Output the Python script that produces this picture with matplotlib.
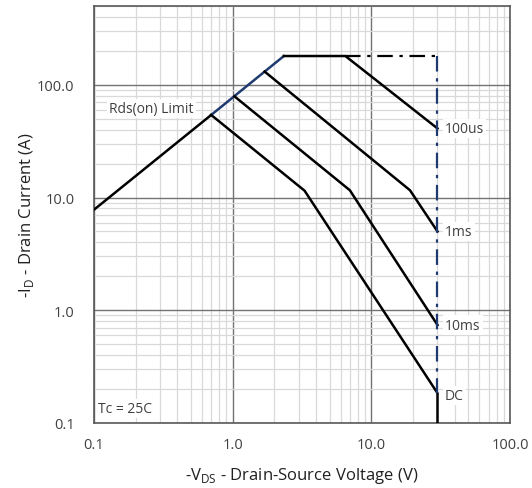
import matplotlib.pyplot as plt
from matplotlib.ticker import FixedLocator, FuncFormatter, LogLocator, NullFormatter

plt.rcParams['font.family'] = ['Open Sans', 'DejaVu Sans']
plt.rcParams['mathtext.fontset'] = 'custom'
plt.rcParams['mathtext.rm'] = 'Open Sans'

# --- DADOS ---
# Limite Rds(on): parte preta e parte azul
rds_v = [0.1, 0.70]
rds_i = [7.8, 54.0]
rds_azul_v = [0.70, 2.34]
rds_azul_i = [54.0, 180.0]

# Curvas de pulso
us100_v = [2.34, 6.5, 30.0]
us100_i = [180.0, 180.0, 41.0]
ms1_v = [1.70, 19.0, 30.0]
ms1_i = [131.0, 11.6, 5.0]
ms10_v = [1.03, 7.0, 30.0]
ms10_i = [79.0, 11.6, 0.74]
dc_v = [0.70, 3.3, 30.0, 30.0]
dc_i = [54.0, 11.5, 0.184, 0.1]

# Limites tracejados
lim_h_v = [6.5, 30.0]
lim_h_i = [180.0, 180.0]
lim_v_v = [30.0, 30.0]
lim_v_i = [180.0, 0.184]

x_ticks = [0.1, 1.0, 10.0, 100.0]
y_ticks = [0.1, 1.0, 10.0, 100.0]

# --- GRÁFICO ---
fig = plt.figure(figsize=(5.32, 4.89), dpi=100)
ax = fig.add_axes([94 / 532, 1 - 424 / 489, 416 / 532, 417 / 489])
ax.set_xscale('log')
ax.set_yscale('log')
ax.set_xlim(0.1, 100)
ax.set_ylim(0.1, 500)

preto = '#000000'
azul = '#1f3a6e'

ax.plot(rds_v, rds_i, color=preto, lw=1.8, zorder=3)
ax.plot(rds_azul_v, rds_azul_i, color=azul, lw=1.8, zorder=3)
ax.plot(us100_v, us100_i, color=preto, lw=1.8, zorder=3)
ax.plot(ms1_v, ms1_i, color=preto, lw=1.8, zorder=3)
ax.plot(ms10_v, ms10_i, color=preto, lw=1.8, zorder=3)
ax.plot(dc_v, dc_i, color=preto, lw=1.8, zorder=3)
ax.plot(lim_h_v, lim_h_i, color=preto, lw=1.6, dashes=(7, 3, 1.5, 3), zorder=3)
ax.plot(lim_v_v, lim_v_i, color=azul, lw=1.6, dashes=(7, 3, 1.5, 3), zorder=3)

# Grade
ax.xaxis.set_major_locator(FixedLocator(x_ticks))
ax.yaxis.set_major_locator(FixedLocator(y_ticks))
ax.xaxis.set_minor_locator(LogLocator(base=10, subs=range(2, 10), numticks=20))
ax.yaxis.set_minor_locator(LogLocator(base=10, subs=range(2, 10), numticks=20))
ax.xaxis.set_minor_formatter(NullFormatter())
ax.yaxis.set_minor_formatter(NullFormatter())
fmt = FuncFormatter(lambda v, p: f'{v:.1f}')
ax.xaxis.set_major_formatter(fmt)
ax.yaxis.set_major_formatter(fmt)
ax.grid(True, which='minor', color='#d9d9d9', lw=0.9)
ax.grid(True, which='major', color='#737373', lw=1.0)
ax.set_axisbelow(True)
ax.tick_params(which='both', length=0, labelsize=10.5, colors='#404040')
ax.tick_params(axis='x', pad=10)
ax.tick_params(axis='y', pad=14)
for s in ax.spines.values():
    s.set_color('#595959')
    s.set_linewidth(1.2)

# Rótulos
caixa = dict(facecolor='white', edgecolor='none', pad=1.5)
ax.text(0.129, 61.5, 'Rds(on) Limit', fontsize=10, color='#404040', va='center', bbox=caixa, zorder=2)
ax.text(34, 41, '100us', fontsize=10, color='#404040', va='center', bbox=caixa, zorder=2)
ax.text(34, 5.0, '1ms', fontsize=10, color='#404040', va='center', bbox=caixa, zorder=2)
ax.text(34, 0.74, '10ms', fontsize=10, color='#404040', va='center', bbox=caixa, zorder=2)
ax.text(34, 0.175, 'DC', fontsize=10, color='#404040', va='center', bbox=caixa, zorder=2)
ax.text(0.107, 0.135, 'Tc = 25C', fontsize=10, color='#404040', va='center', bbox=caixa, zorder=2)

ax.set_xlabel(r'-V$_{\mathregular{DS}}$ - Drain-Source Voltage (V)', fontsize=12, color='#202020')
ax.set_ylabel(r'-I$_{\mathregular{D}}$ - Drain Current (A)', fontsize=12, color='#202020')
ax.xaxis.set_label_coords(0.5, -0.1)
ax.yaxis.set_label_coords(-0.14, 0.5)

fig.savefig('out.png', dpi=100)
